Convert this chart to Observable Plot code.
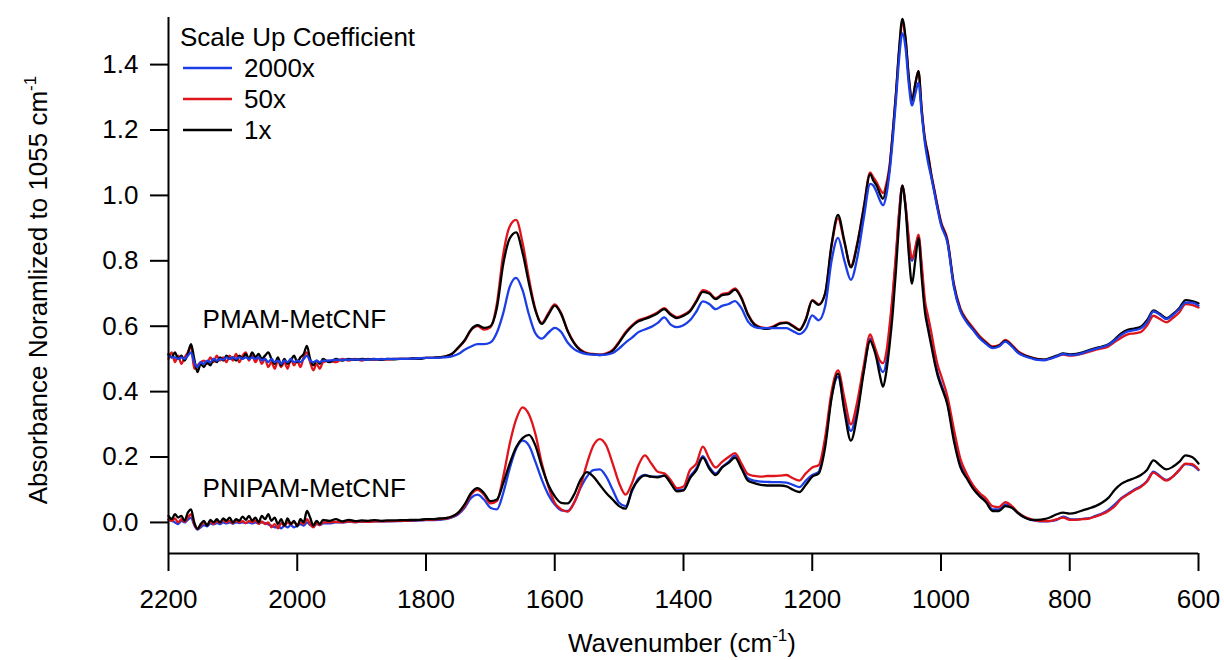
<!DOCTYPE html>
<html>
<head>
<meta charset="utf-8">
<script src="https://cdn.jsdelivr.net/npm/d3@7"></script>
<script src="https://cdn.jsdelivr.net/npm/@observablehq/plot@0.6"></script>
<style>
  html, body { margin: 0; padding: 0; background: #fff; }
  svg { font-family: "Liberation Sans", Arial, sans-serif; }
  g[aria-label="x-axis tick"] path, g[aria-label="y-axis tick"] path { stroke-width: 2px; }
</style>
</head>
<body>
<div id="chart"></div>
<script>
// ---- sampling grid (cm^-1) ----
const wavenumber = [
  ...d3.range(2200, 1955, -5),
  ...d3.range(1950, 1105, -10),
  ...d3.range(1105, 995, -5),
  ...d3.range(990, 595, -10)
];

const samples = ["PMAM-MetCNF", "PNIPAM-MetCNF"];
const scaleUp = ["2000x", "50x", "1x"];
const scaleColors = ["#1c3ee6", "#e0151c", "#000000"];
const xTicks = [2200, 2000, 1800, 1600, 1400, 1200, 1000, 800, 600];
const yTicks = [0.0, 0.2, 0.4, 0.6, 0.8, 1.0, 1.2, 1.4];
const xDomain = [2200, 600];
const yDomain = [-0.095, 1.544];

// ---- PMAM-MetCNF ----
const pmam2000 = [
  0.51,0.505,0.505,0.50,0.505,0.50,0.51,0.52,0.49,0.475,0.49,0.485,0.495,0.49,0.50,0.495,0.50,0.498,0.505,0.50,0.505,0.50,0.505,0.50,0.505,0.50,0.505,0.50,0.505,0.495,0.50,0.49,0.50,0.49,0.495,0.485,0.495,0.49,0.50,0.49,0.495,0.49,0.50,0.51,0.495,0.49,0.495,0.49,0.495,
  0.495,0.497,0.497,0.498,0.498,0.498,0.498,0.499,0.499,0.50,0.50,0.50,0.50,0.501,0.502,0.503,
  0.503,0.503,0.505,0.508,0.515,0.528,0.538,0.545,0.545,0.55,0.58,0.64,0.72,0.748,0.71,0.635,0.578,0.562,0.58,0.595,0.582,0.55,0.53,0.52,0.515,0.513,0.512,0.513,0.518,0.532,0.55,0.565,0.582,0.59,0.598,0.61,0.627,0.605,0.597,0.603,0.618,0.645,0.676,0.668,0.652,0.662,0.668,0.677,0.655,0.615,0.598,0.594,0.594,0.594,0.594,0.594,0.585,0.576,0.592,0.633,0.618,0.66,0.80,0.87,0.80,0.742,0.81,0.93,1.035,
  1.03,1.01,0.985,0.97,1.00,1.07,1.17,1.29,1.42,1.495,1.45,1.34,1.275,1.31,1.345,1.25,1.16,1.10,1.055,1.005,0.955,0.91,
  0.855,0.72,0.647,0.612,0.588,0.563,0.546,0.533,0.538,0.553,0.538,0.518,0.508,0.502,0.497,0.496,0.501,0.508,0.515,0.512,0.513,0.518,0.525,0.531,0.536,0.543,0.557,0.573,0.584,0.588,0.593,0.612,0.645,0.635,0.622,0.634,0.652,0.672,0.672,0.663
];
const pmam50 = [
  0.50,0.52,0.49,0.51,0.485,0.505,0.52,0.54,0.47,0.48,0.49,0.495,0.485,0.505,0.49,0.51,0.495,0.505,0.49,0.51,0.495,0.515,0.49,0.51,0.52,0.495,0.51,0.49,0.505,0.485,0.50,0.475,0.49,0.47,0.495,0.475,0.49,0.47,0.50,0.48,0.495,0.475,0.505,0.52,0.49,0.465,0.485,0.47,0.49,
  0.495,0.49,0.50,0.495,0.50,0.495,0.50,0.497,0.50,0.498,0.50,0.50,0.50,0.50,0.502,0.503,
  0.503,0.505,0.508,0.515,0.533,0.555,0.588,0.600,0.590,0.597,0.668,0.82,0.905,0.925,0.855,0.745,0.652,0.610,0.64,0.667,0.64,0.587,0.55,0.528,0.518,0.515,0.513,0.517,0.528,0.553,0.582,0.603,0.618,0.625,0.633,0.643,0.655,0.638,0.628,0.635,0.648,0.678,0.710,0.703,0.686,0.698,0.702,0.716,0.688,0.638,0.607,0.597,0.594,0.60,0.61,0.612,0.602,0.59,0.622,0.68,0.667,0.70,0.845,0.93,0.855,0.785,0.855,0.965,1.07,
  1.055,1.04,1.02,1.007,1.035,1.09,1.19,1.31,1.44,1.53,1.475,1.36,1.29,1.34,1.38,1.265,1.175,1.125,1.065,1.015,0.965,0.92,
  0.865,0.73,0.655,0.62,0.595,0.57,0.552,0.538,0.542,0.558,0.543,0.523,0.512,0.505,0.50,0.498,0.502,0.508,0.513,0.51,0.512,0.516,0.522,0.528,0.532,0.538,0.552,0.565,0.575,0.578,0.582,0.602,0.632,0.622,0.612,0.625,0.642,0.668,0.665,0.657
];
const pmam1 = [
  0.515,0.505,0.52,0.50,0.51,0.495,0.515,0.545,0.50,0.46,0.485,0.475,0.49,0.48,0.50,0.49,0.505,0.495,0.51,0.50,0.505,0.495,0.51,0.50,0.515,0.50,0.52,0.505,0.515,0.50,0.51,0.52,0.50,0.485,0.505,0.48,0.50,0.485,0.495,0.51,0.49,0.505,0.515,0.54,0.50,0.48,0.495,0.485,0.50,
  0.49,0.50,0.495,0.50,0.497,0.50,0.498,0.50,0.497,0.50,0.499,0.50,0.50,0.502,0.50,0.503,
  0.503,0.505,0.508,0.515,0.535,0.557,0.59,0.603,0.595,0.60,0.655,0.79,0.868,0.887,0.825,0.73,0.648,0.607,0.635,0.663,0.637,0.585,0.548,0.526,0.516,0.514,0.512,0.515,0.525,0.55,0.578,0.60,0.615,0.622,0.63,0.64,0.652,0.635,0.625,0.632,0.645,0.675,0.705,0.70,0.683,0.695,0.698,0.712,0.685,0.635,0.605,0.595,0.592,0.598,0.608,0.61,0.60,0.588,0.62,0.678,0.665,0.70,0.85,0.94,0.86,0.78,0.85,0.96,1.065,
  1.045,1.03,1.005,0.99,1.02,1.08,1.19,1.31,1.45,1.54,1.48,1.36,1.29,1.34,1.38,1.26,1.17,1.12,1.06,1.01,0.96,0.915,
  0.86,0.725,0.65,0.615,0.59,0.565,0.548,0.535,0.54,0.555,0.54,0.52,0.51,0.504,0.499,0.498,0.503,0.51,0.517,0.514,0.515,0.52,0.527,0.533,0.538,0.545,0.56,0.578,0.589,0.593,0.598,0.618,0.648,0.638,0.625,0.637,0.655,0.68,0.677,0.67
];

// ---- PNIPAM-MetCNF ----
const pnipam2000 = [
  0.008,0.005,0.0,-0.005,0.005,0.0,0.008,0.015,-0.008,-0.022,-0.015,-0.008,-0.012,-0.003,-0.006,-0.002,-0.005,0.0,-0.003,0.0,-0.004,0.0,-0.002,0.0,-0.002,0.0,-0.003,0.0,-0.003,0.0,-0.002,-0.006,-0.01,-0.015,-0.012,-0.018,-0.01,-0.015,-0.008,-0.015,-0.01,-0.005,-0.01,0.0,-0.008,-0.012,-0.005,-0.008,-0.003,
  -0.003,0.0,0.0,0.002,0.001,0.002,0.002,0.003,0.003,0.003,0.004,0.004,0.005,0.005,0.006,0.007,
  0.007,0.008,0.01,0.015,0.025,0.045,0.075,0.085,0.07,0.045,0.04,0.09,0.165,0.225,0.25,0.235,0.185,0.13,0.085,0.055,0.037,0.035,0.06,0.105,0.14,0.16,0.162,0.14,0.10,0.06,0.05,0.095,0.135,0.145,0.14,0.14,0.143,0.123,0.10,0.10,0.14,0.165,0.203,0.17,0.15,0.17,0.185,0.205,0.17,0.135,0.128,0.125,0.124,0.123,0.123,0.122,0.115,0.108,0.128,0.145,0.155,0.245,0.385,0.445,0.35,0.28,0.35,0.465,0.562,
  0.54,0.51,0.475,0.46,0.49,0.58,0.69,0.81,0.945,1.03,0.965,0.86,0.80,0.835,0.875,0.775,0.66,0.60,0.55,0.50,0.455,0.425,
  0.365,0.26,0.18,0.14,0.105,0.082,0.065,0.04,0.04,0.055,0.047,0.028,0.015,0.008,0.004,0.003,0.004,0.008,0.018,0.01,0.009,0.011,0.013,0.02,0.027,0.038,0.055,0.074,0.087,0.1,0.11,0.127,0.155,0.142,0.13,0.14,0.16,0.178,0.175,0.16
];
const pnipam50 = [
  0.01,0.005,0.012,0.0,0.01,0.002,0.015,0.025,-0.005,-0.02,-0.01,0.0,-0.008,0.003,-0.005,0.005,-0.002,0.008,0.0,0.005,-0.003,0.006,0.0,0.004,-0.002,0.005,0.0,0.006,-0.004,0.003,-0.005,0.0,-0.015,-0.005,-0.018,-0.002,-0.01,0.0,-0.006,0.002,-0.008,0.0,-0.005,0.01,-0.005,-0.015,-0.002,-0.008,0.0,
  0.0,0.002,0.0,0.003,0.001,0.003,0.002,0.003,0.003,0.004,0.004,0.005,0.005,0.006,0.007,0.008,
  0.008,0.01,0.012,0.017,0.028,0.05,0.085,0.10,0.085,0.058,0.065,0.14,0.24,0.315,0.352,0.33,0.27,0.18,0.11,0.06,0.04,0.033,0.06,0.11,0.18,0.235,0.255,0.235,0.18,0.12,0.085,0.12,0.175,0.205,0.18,0.155,0.15,0.13,0.105,0.11,0.16,0.18,0.232,0.195,0.168,0.185,0.20,0.212,0.18,0.148,0.142,0.14,0.142,0.142,0.143,0.145,0.135,0.128,0.15,0.168,0.175,0.26,0.40,0.465,0.38,0.30,0.37,0.48,0.575,
  0.55,0.52,0.495,0.487,0.52,0.60,0.70,0.82,0.95,1.03,0.97,0.87,0.806,0.84,0.88,0.79,0.68,0.63,0.58,0.525,0.48,0.45,
  0.385,0.285,0.195,0.148,0.113,0.09,0.073,0.05,0.047,0.062,0.05,0.03,0.017,0.01,0.005,0.004,0.005,0.01,0.015,0.008,0.008,0.01,0.012,0.018,0.025,0.035,0.05,0.072,0.085,0.098,0.108,0.125,0.152,0.14,0.128,0.14,0.16,0.18,0.178,0.162
];
const pnipam1 = [
  0.02,0.01,0.025,0.015,0.02,0.005,0.03,0.04,0.0,-0.02,-0.005,0.005,-0.01,0.008,0.0,0.01,0.0,0.012,0.005,0.015,0.0,0.01,0.005,0.018,0.008,0.02,0.005,0.015,0.0,0.02,0.01,0.025,0.005,0.015,-0.005,0.01,-0.01,0.012,-0.005,0.005,-0.012,0.01,0.0,0.035,0.015,-0.01,0.005,-0.005,0.008,
  0.005,0.01,0.003,0.008,0.004,0.006,0.005,0.007,0.005,0.006,0.006,0.007,0.007,0.008,0.008,0.01,
  0.01,0.012,0.013,0.018,0.03,0.055,0.09,0.105,0.09,0.065,0.07,0.12,0.18,0.23,0.258,0.268,0.235,0.17,0.115,0.08,0.06,0.058,0.085,0.13,0.154,0.14,0.115,0.09,0.07,0.05,0.042,0.10,0.13,0.144,0.14,0.138,0.143,0.12,0.095,0.098,0.135,0.16,0.198,0.165,0.145,0.168,0.182,0.198,0.165,0.128,0.12,0.115,0.113,0.113,0.113,0.11,0.10,0.093,0.115,0.14,0.15,0.23,0.38,0.455,0.34,0.25,0.33,0.46,0.555,
  0.535,0.50,0.45,0.415,0.46,0.54,0.64,0.77,0.92,1.03,0.96,0.82,0.73,0.80,0.87,0.75,0.645,0.59,0.54,0.49,0.448,0.418,
  0.36,0.25,0.17,0.135,0.103,0.08,0.062,0.035,0.035,0.05,0.045,0.028,0.015,0.008,0.008,0.01,0.016,0.025,0.03,0.027,0.03,0.037,0.043,0.05,0.06,0.075,0.10,0.118,0.128,0.135,0.144,0.16,0.19,0.175,0.162,0.17,0.185,0.205,0.20,0.18
];

// sample labels (data coordinates)
const labelText = ["PMAM-MetCNF", "PNIPAM-MetCNF"];
const labelWn = [2147, 2147];
const labelY = [0.619, 0.102];

// ---- build table ----
const seriesList = [
  {sample: samples[0], scale: "50x",   values: pmam50},
  {sample: samples[0], scale: "1x",    values: pmam1},
  {sample: samples[0], scale: "2000x", values: pmam2000},
  {sample: samples[1], scale: "2000x", values: pnipam2000},
  {sample: samples[1], scale: "50x",   values: pnipam50},
  {sample: samples[1], scale: "1x",    values: pnipam1}
];
const colorOf = s => scaleColors[scaleUp.indexOf(s)];
const problems = [];
seriesList.forEach(s => { if (s.values.length !== wavenumber.length) problems.push(s.sample + " " + s.scale + ": " + s.values.length + " vs " + wavenumber.length); });

const lineMarks = seriesList.map(s => Plot.line(
  s.values.map((v, i) => ({wn: wavenumber[i], v})).filter(d => d.wn !== undefined),
  {x: "wn", y: "v", stroke: colorOf(s.scale), strokeWidth: 2.3, curve: "monotone-x"}
));

const labels = labelText.map((t, i) => ({t, wn: labelWn[i], v: labelY[i]}));

const FONT = 26;
const plot = Plot.plot({
  width: 1224,
  height: 660,
  marginLeft: 168,
  marginRight: 26,
  marginTop: 17,
  marginBottom: 107,
  style: {fontFamily: '"Liberation Sans", Arial, sans-serif', fontSize: FONT + "px", color: "#000", background: "#fff"},
  x: {domain: xDomain},
  y: {domain: yDomain},
  marks: [
    ...lineMarks,
    Plot.ruleX([xDomain[0]], {y1: yDomain[0], y2: yDomain[1], stroke: "#000", strokeWidth: 2}),
    Plot.ruleY([yDomain[0]], {x1: xDomain[0], x2: xDomain[1], stroke: "#000", strokeWidth: 2}),
    Plot.axisX({ticks: xTicks, tickFormat: d3.format("d"), tickSize: 18, tickPadding: 18, label: null, fontSize: FONT, stroke: "#000"}),
    Plot.axisY({ticks: yTicks, tickFormat: d3.format(".1f"), tickSize: 18, tickPadding: 12, label: null, fontSize: FONT, stroke: "#000"}),
    Plot.text(labels, {x: "wn", y: "v", text: "t", textAnchor: "start", fontSize: FONT, fill: "#000"})
  ]
});

const svg = d3.select(plot);

// axis titles with superscripts
const xt = svg.append("text")
  .attr("x", 682).attr("y", 652)
  .attr("text-anchor", "middle").attr("font-size", FONT).attr("fill", "#000");
xt.append("tspan").text("Wavenumber (cm");
xt.append("tspan").attr("dy", -11).attr("font-size", 17).text("-1");
xt.append("tspan").attr("dy", 11).text(")");

const yt = svg.append("text")
  .attr("transform", "translate(47,290) rotate(-90)")
  .attr("text-anchor", "middle").attr("font-size", FONT).attr("fill", "#000");
yt.append("tspan").text("Absorbance Noramlized to 1055 cm");
yt.append("tspan").attr("dy", -11).attr("font-size", 17).text("-1");

// legend
const lg = svg.append("g").attr("font-size", FONT).attr("fill", "#000").attr("text-anchor", "start");
lg.append("text").attr("x", 180).attr("y", 46).attr("text-anchor", "start").text("Scale Up Coefficient");
scaleUp.forEach((s, i) => {
  lg.append("line").attr("x1", 183).attr("x2", 232).attr("y1", 68 + 31 * i).attr("y2", 68 + 31 * i)
    .attr("stroke", scaleColors[i]).attr("stroke-width", 2.3);
  lg.append("text").attr("x", 244).attr("y", 77 + 31 * i).attr("text-anchor", "start").text(s);
});

if (problems.length) {
  svg.append("text").attr("x", 600).attr("y", 30).attr("fill", "magenta").attr("font-size", 14).text(problems.join("; "));
}

document.getElementById("chart").appendChild(plot);
</script>
</body>
</html>
